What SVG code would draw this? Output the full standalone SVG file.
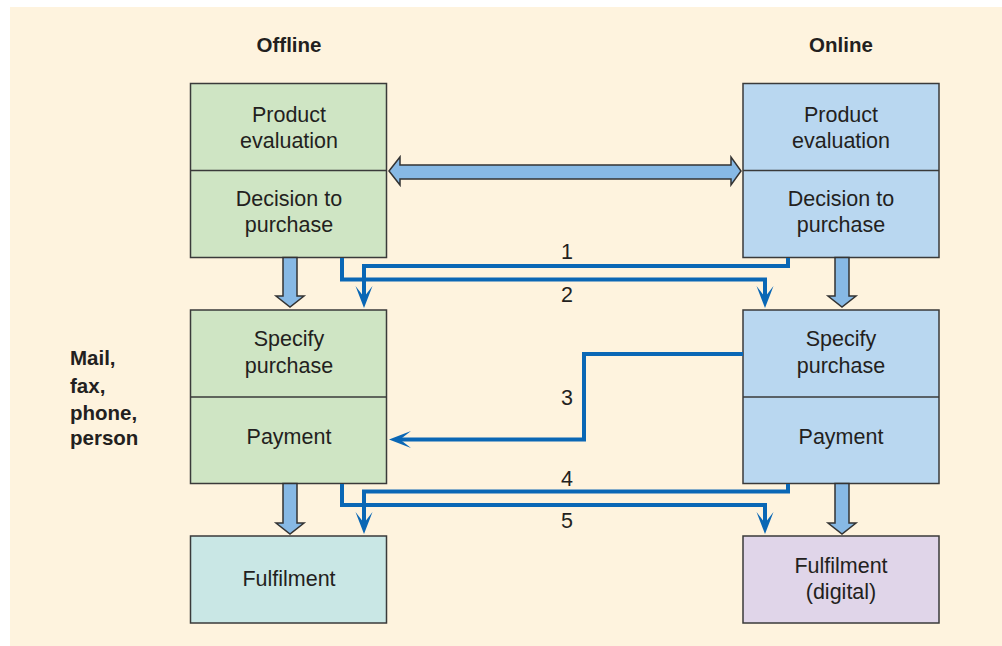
<svg xmlns="http://www.w3.org/2000/svg" width="1002" height="646" viewBox="0 0 1002 646">
  <defs>
    <style>
      .bg { fill: #fef3de; }
      .box { stroke: #3a3a3a; stroke-width: 1.5; }
      .off { fill: #cfe5c4; }
      .on { fill: #b9d7f0; }
      .ful { fill: #c9e7e5; }
      .dig { fill: #e0d5e9; }
      .div { stroke: #3a3a3a; stroke-width: 1.5; fill: none; }
      .t { font-family: "Liberation Sans", Arial, Helvetica, sans-serif; font-size: 21.5px; fill: #231f20; text-anchor: middle; }
      .h { font-family: "Liberation Sans", Arial, Helvetica, sans-serif; font-size: 20.5px; font-weight: bold; fill: #231f20; }
      .fat { fill: #87b9e5; stroke: #333333; stroke-width: 1.5; stroke-linejoin: miter; }
      .flow { fill: none; stroke: #0a67b5; stroke-width: 4; stroke-linejoin: miter; marker-end: url(#head); }
    </style>
    <!-- notched arrowhead for the thin flow lines; ref point sits at the notch -->
    <marker id="head" markerUnits="userSpaceOnUse" viewBox="0 0 22 18" markerWidth="22" markerHeight="18" refX="11" refY="9" orient="auto">
      <path d="M22,9 L0,0.5 L11,9 L0,17.5 Z" fill="#0a67b5"/>
    </marker>
  </defs>

  <rect class="bg" x="10" y="7" width="992" height="639"/>

  <!-- column headings and side label -->
  <text class="h" x="289" y="51.5" text-anchor="middle">Offline</text>
  <text class="h" x="841" y="51.5" text-anchor="middle">Online</text>
  <text class="h" x="70" y="365">Mail,</text>
  <text class="h" x="70" y="392.5">fax,</text>
  <text class="h" x="70" y="420">phone,</text>
  <text class="h" x="70" y="445">person</text>

  <!-- offline column -->
  <g id="offline-decide">
    <rect class="box off" x="190.5" y="83.5" width="196" height="174"/>
    <line class="div" x1="190.5" y1="170.5" x2="386.5" y2="170.5"/>
    <text class="t" x="289" y="121.5">Product</text>
    <text class="t" x="289" y="148">evaluation</text>
    <text class="t" x="289" y="205.5">Decision to</text>
    <text class="t" x="289" y="231.5">purchase</text>
  </g>
  <g id="offline-buy">
    <rect class="box off" x="190.5" y="310" width="196" height="173.5"/>
    <line class="div" x1="190.5" y1="397" x2="386.5" y2="397"/>
    <text class="t" x="289" y="346">Specify</text>
    <text class="t" x="289" y="372.5">purchase</text>
    <text class="t" x="289" y="443.5">Payment</text>
  </g>
  <g id="offline-fulfil">
    <rect class="box ful" x="190.5" y="536" width="196" height="87"/>
    <text class="t" x="289" y="586">Fulfilment</text>
  </g>

  <!-- online column -->
  <g id="online-decide">
    <rect class="box on" x="743" y="83.5" width="196" height="174"/>
    <line class="div" x1="743" y1="170.5" x2="939" y2="170.5"/>
    <text class="t" x="841" y="121.5">Product</text>
    <text class="t" x="841" y="148">evaluation</text>
    <text class="t" x="841" y="205.5">Decision to</text>
    <text class="t" x="841" y="231.5">purchase</text>
  </g>
  <g id="online-buy">
    <rect class="box on" x="743" y="310" width="196" height="173.5"/>
    <line class="div" x1="743" y1="397" x2="939" y2="397"/>
    <text class="t" x="841" y="346">Specify</text>
    <text class="t" x="841" y="372.5">purchase</text>
    <text class="t" x="841" y="443.5">Payment</text>
  </g>
  <g id="online-fulfil">
    <rect class="box dig" x="743" y="536" width="196" height="87"/>
    <text class="t" x="841" y="572.5">Fulfilment</text>
    <text class="t" x="841" y="599">(digital)</text>
  </g>

  <!-- connectors -->
  <g id="connectors">
    <!-- two-way link between the evaluation stages -->
    <polygon class="fat" points="389,171 400,157 400,165 731,165 731,157 741,171 731,185 731,179 400,179 400,185"/>
    <!-- stage-to-stage block arrows -->
    <polygon class="fat" points="283,257.5 297,257.5 297,296 304,296 290,307 276,296 283,296"/>
    <polygon class="fat" points="835,257.5 849,257.5 849,296 856,296 842,307 828,296 835,296"/>
    <polygon class="fat" points="283,483.5 297,483.5 297,523 304,523 290,534 276,523 283,523"/>
    <polygon class="fat" points="835,483.5 849,483.5 849,523 856,523 842,534 828,523 835,523"/>

    <!-- numbered channel switches -->
    <path class="flow" d="M788,258 V266 H364 V297"/>
    <path class="flow" d="M342,258 V279.5 H765 V297"/>
    <path class="flow" d="M743,354 H584 V439.5 H400"/>
    <path class="flow" d="M788,484 V491.5 H364 V523"/>
    <path class="flow" d="M342,484 V505 H765 V523"/>

    <text class="t" x="567" y="259">1</text>
    <text class="t" x="567" y="302">2</text>
    <text class="t" x="567" y="405">3</text>
    <text class="t" x="567" y="485.5">4</text>
    <text class="t" x="567" y="527.5">5</text>
  </g>
</svg>
